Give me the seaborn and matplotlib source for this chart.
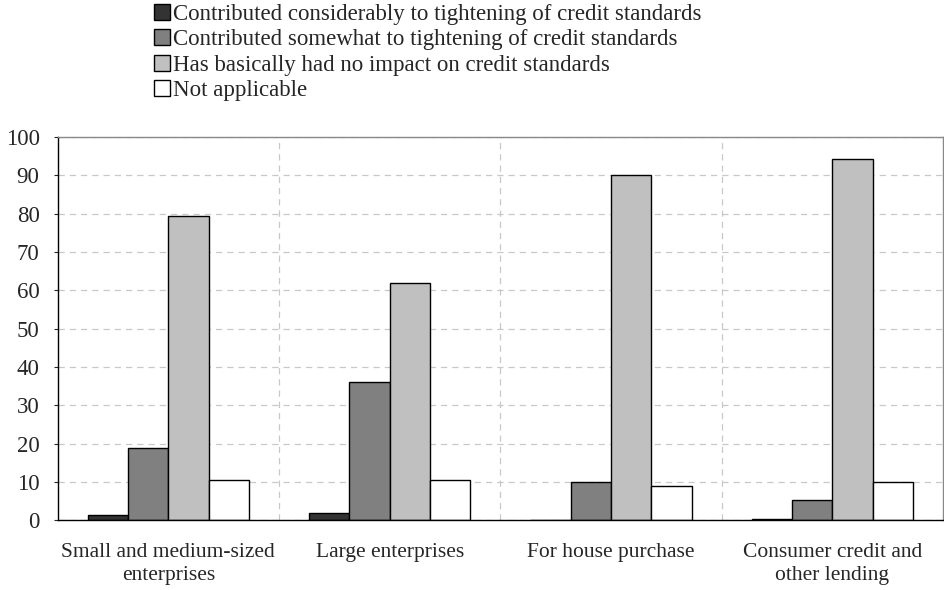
import matplotlib
matplotlib.use("Agg")
import matplotlib.pyplot as plt
import seaborn as sns
import pandas as pd

categories = ["Small and medium-sized\nenterprises", "Large enterprises",
              "For house purchase", "Consumer credit and\nother lending"]
series = ["Contributed considerably to tightening of credit standards",
          "Contributed somewhat to tightening of credit standards",
          "Has basically had no impact on credit standards",
          "Not applicable"]
considerably = [1.5, 2.0, 0.0, 0.4]
somewhat = [19.0, 36.0, 10.0, 5.3]
no_impact = [79.3, 62.0, 90.0, 94.2]
not_applicable = [10.5, 10.5, 9.0, 10.0]
colors = ["#333333", "#808080", "#c0c0c0", "#ffffff"]

rows = []
for s, vals in zip(series, [considerably, somewhat, no_impact, not_applicable]):
    for c, v in zip(categories, vals):
        rows.append({"category": c, "series": s, "value": v})
df = pd.DataFrame(rows)

sns.set_style("white")
plt.rcParams["font.family"] = ["Liberation Serif", "DejaVu Serif"]

fig = plt.figure(figsize=(9.45, 5.9), dpi=100)
ax = fig.add_axes([0.061, 0.118, 0.937, 0.65])

sns.barplot(data=df, x="category", y="value", hue="series", hue_order=series,
            palette=colors, width=0.73, edgecolor="black", linewidth=1.0,
            saturation=1, ax=ax)

ax.set_ylim(0, 100)
ax.set_xlim(-0.5, 3.5)
ax.set_yticks(range(0, 101, 10))
ax.tick_params(axis="y", labelsize=16.5, length=3, direction="out", left=True, pad=10)
ax.tick_params(axis="x", labelsize=15.5, length=0, pad=16)
for lbl in ax.get_xticklabels():
    lbl.set_linespacing(1.3)
ax.set_xlabel("")
ax.set_ylabel("")

ax.set_axisbelow(True)
ax.yaxis.grid(True, linestyle=(0, (5, 4)), color="#c8c8c8", linewidth=0.9)
for b in [0.5, 1.5, 2.5]:
    ax.axvline(b, linestyle=(0, (5, 4)), color="#c8c8c8", linewidth=0.9, zorder=0)

for side in ["left", "bottom"]:
    ax.spines[side].set_color("black")
    ax.spines[side].set_linewidth(1.0)
for side in ["top", "right"]:
    ax.spines[side].set_color("#888888")
    ax.spines[side].set_linewidth(1.0)

handles, labels = ax.get_legend_handles_labels()
ax.get_legend().remove()
fig.legend(handles, labels, loc="upper left", bbox_to_anchor=(0.153, 1.009),
           frameon=False, fontsize=16.5, handlelength=0.7, handleheight=0.7,
           handletextpad=0.15, labelspacing=0.19, borderaxespad=0)

fig.savefig("out.png", dpi=100)
